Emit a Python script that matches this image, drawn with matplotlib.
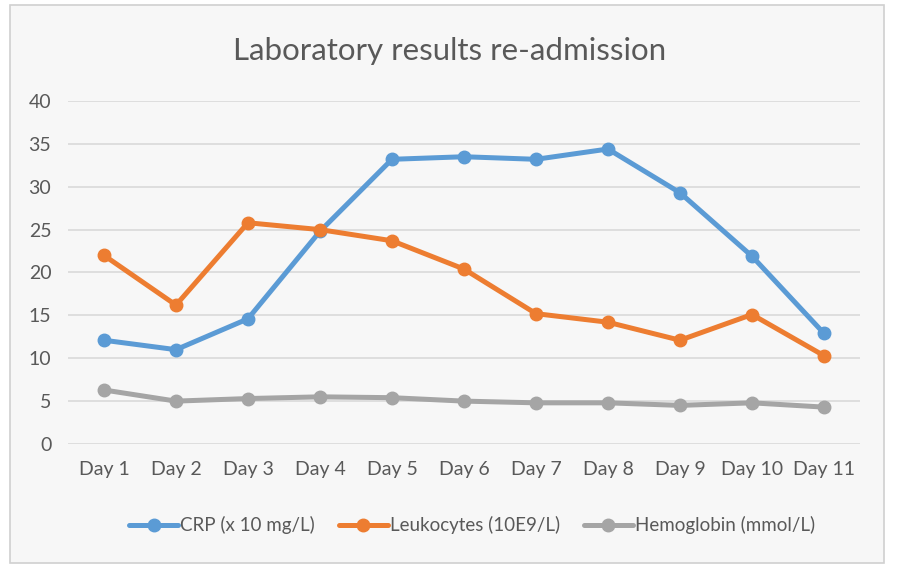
import matplotlib
matplotlib.use("Agg")
import matplotlib.pyplot as plt
from matplotlib.patches import Rectangle

plt.rcParams["font.family"] = ["Lato", "DejaVu Sans"]

days = ["Day 1", "Day 2", "Day 3", "Day 4", "Day 5", "Day 6",
        "Day 7", "Day 8", "Day 9", "Day 10", "Day 11"]
crp = [12.1, 11.0, 14.6, 24.8, 33.2, 33.5, 33.2, 34.4, 29.3, 21.9, 12.9]
leukocytes = [22.0, 16.2, 25.8, 25.0, 23.7, 20.4, 15.2, 14.2, 12.1, 15.1, 10.3]
hemoglobin = [6.3, 5.0, 5.3, 5.5, 5.4, 5.0, 4.8, 4.8, 4.5, 4.8, 4.3]
series_names = ["CRP (x 10 mg/L)", "Leukocytes (10E9/L)", "Hemoglobin (mmol/L)"]
colors = ["#5b9bd5", "#ed7d31", "#a5a5a5"]

fig = plt.figure(figsize=(8.99, 5.69), dpi=100)
fig.patch.set_facecolor("white")
fig.patches.append(Rectangle((0.011, 0.011), 0.972, 0.98, transform=fig.transFigure,
                             facecolor="#f7f7f7", edgecolor="#d0d0d0", linewidth=1.2,
                             zorder=-10))

ax = fig.add_axes([0.0756, 0.2197, 0.881, 0.6028])
ax.set_facecolor("none")

x = list(range(len(days)))
for vals, name, c in zip([crp, leukocytes, hemoglobin], series_names, colors):
    ax.plot(x, vals, color=c, linewidth=3.6, marker="o", markersize=9,
            label=name, solid_capstyle="round", zorder=3)

ax.set_xlim(-0.5, len(days) - 0.5)
ax.set_ylim(0, 40)
ax.set_yticks(range(0, 41, 5))
ax.set_xticks(x)
ax.set_xticklabels(days)
ax.grid(axis="y", color="#d9d9d9", linewidth=1.2)
ax.set_axisbelow(True)
for s in ax.spines.values():
    s.set_visible(False)
ax.tick_params(length=0, labelsize=14, colors="#595959", pad=12)
ax.tick_params(axis="y", pad=12)

fig.text(0.5, 0.91, "Laboratory results re-admission", ha="center", va="center",
         fontsize=22.5, color="#595959")

fig.legend(loc="center", bbox_to_anchor=(0.525, 0.077), ncol=3, frameon=False,
           fontsize=13.5, handlelength=2.6, handletextpad=0.1, columnspacing=1.3,
           labelcolor="#595959")

fig.savefig("out.png", dpi=100, facecolor=fig.get_facecolor())
